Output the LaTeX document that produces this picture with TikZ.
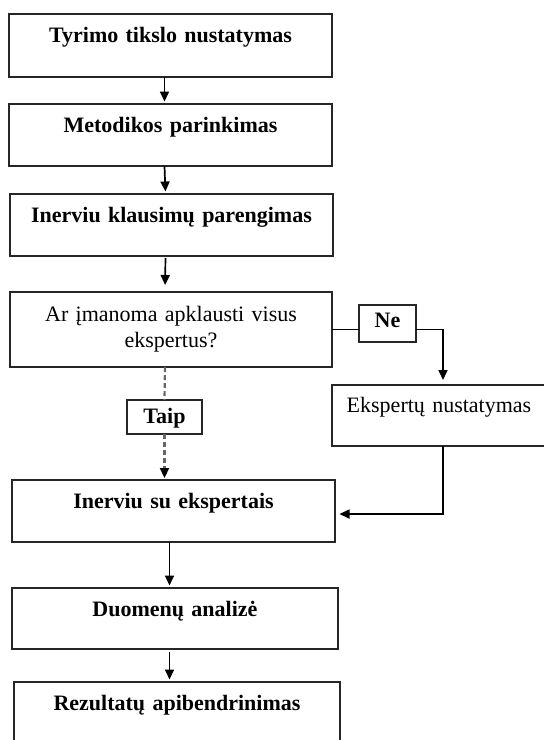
\documentclass[tikz,border=0pt]{standalone}
\usepackage{fontspec}
\setmainfont{Liberation Serif}
\usetikzlibrary{arrows.meta}
\begin{document}
\begin{tikzpicture}[x=1pt,y=-1pt,
    bloc/.style={draw=black!85,line width=1.6pt,inner sep=0pt,outer sep=0pt,anchor=north west,align=center,
      font=\fontsize{22}{26}\selectfont\bfseries},
    question/.style={bloc,font=\fontsize{22}{26.5}\selectfont},
    fleche/.style={-{Triangle[length=10pt,width=9pt,color=black]},line width=1.7pt},
    pointilles/.style={black!60,line width=2.2pt,dash pattern=on 5pt off 3pt}]
    \useasboundingbox (0,0) rectangle (544,740);
    \node[bloc,text width=323pt,text height=28pt,text depth=35pt] (tikslas) at (9,14) {Tyrimo tikslo nustatymas};
    \node[bloc,text width=323pt,text height=28pt,text depth=34pt] (metodika) at (9,104) {Metodikos parinkimas};
    \node[bloc,text width=323pt,text height=28pt,text depth=34pt] (klausimai) at (10,194) {Inerviu klausimų parengimas};
    \node[question,text width=322pt,text height=29pt,text depth=46pt] (klausimas) at (10,292) {Ar įmanoma apklausti visus\\ekspertus?};
    \node[bloc,text width=57pt,text height=22pt,text depth=15pt] (ne) at (359,305) {Ne};
    \node[question,text width=214pt,text height=27pt,text depth=34pt] (nustatymas) at (332,385) {Ekspertų nustatymas};
    \node[bloc,text width=75pt,text height=23pt,text depth=11pt] (taip) at (127,400) {Taip};
    \node[bloc,text width=323pt,text height=28pt,text depth=34pt] (interviu) at (12,480) {Inerviu su ekspertais};
    \node[bloc,text width=326pt,text height=28pt,text depth=33pt] (analize) at (12,588) {Duomenų analizė};
    \node[bloc,text width=326pt,text height=28pt,text depth=60pt] (rezultatai) at (14,682) {Rezultatų apibendrinimas};
    \draw[fleche,shorten >=2.5pt] ([xshift=-6pt]tikslas.south) -- ([xshift=-6pt]metodika.north);
    \draw[fleche,shorten >=2.5pt] ([xshift=-6pt]metodika.south) -- ([xshift=-6pt]klausimai.north);
    \draw[fleche,shorten <=2pt,shorten >=7pt] ([xshift=-6pt]klausimai.south) -- ([xshift=-6pt]klausimas.north);
    \draw[line width=1.7pt] (klausimas.east) -- (klausimas.east -| ne.west);
    \draw[fleche,shorten >=5pt] (ne.east |- klausimas.east) -| ([xshift=4pt]nustatymas.north);
    \draw[pointilles] ([xshift=-6pt]klausimas.south) -- (taip.north);%atsakymas taip
    \draw[fleche,pointilles,shorten >=2pt] (taip.south) -- (taip.south |- interviu.north);
    \draw[fleche,shorten >=4.5pt] ([xshift=4pt]nustatymas.south) |- ([yshift=-3pt]interviu.east);
    \draw[fleche,shorten >=2.5pt] ([xshift=-4pt]interviu.south) -- ([xshift=-4pt]interviu.south |- analize.north);
    \draw[fleche,shorten <=3pt,shorten >=2.5pt] ([xshift=-5.5pt]analize.south) -- ([xshift=-5.5pt]analize.south |- rezultatai.north);
\end{tikzpicture}
\end{document}
